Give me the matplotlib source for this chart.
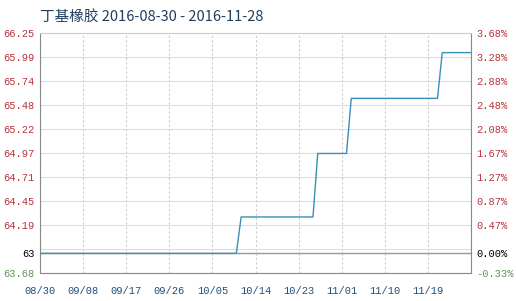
import matplotlib
matplotlib.use("Agg")
import matplotlib.pyplot as plt
import datetime as dt

# price steps
dates = ["2016-08-30", "2016-10-10", "2016-10-11", "2016-10-26", "2016-10-27",
         "2016-11-02", "2016-11-03", "2016-11-21", "2016-11-22", "2016-11-28"]
prices = [63.89, 63.89, 64.28, 64.28, 64.96, 64.96, 65.55, 65.55, 66.04, 66.04]

base = 63.89
left_ticks = [63.68, 63.89, 63.94, 64.19, 64.45, 64.71, 64.97, 65.22, 65.48, 65.74, 65.99, 66.25]
left_labels = ["63.68", "63", "", "64.19", "64.45", "64.71", "64.97", "65.22", "65.48", "65.74", "65.99", "66.25"]
right_labels = ["-0.33%", "0.00%", "", "0.47%", "0.87%", "1.27%", "1.67%", "2.08%", "2.48%", "2.88%", "3.28%", "3.68%"]
x_labels = ["08/30", "09/08", "09/17", "09/26", "10/05", "10/14", "10/23", "11/01", "11/10", "11/19", ""]

red = "#b8333a"
green = "#5a9a4a"
blue_txt = "#1f4e79"
mono = "Liberation Mono"

x = [dt.datetime.strptime(d, "%Y-%m-%d") for d in dates]

fig = plt.figure(figsize=(5.16, 3.01), dpi=100)
ax = fig.add_axes([40 / 516, 28 / 301, 431 / 516, 240 / 301])

ax.plot(x, prices, color="#3a8fb7", lw=1.0, zorder=3)
ax.axhline(base, color="#999999", lw=1.0, zorder=2)

start = x[0]
xt = [start + dt.timedelta(days=9 * i) for i in range(11)]
ax.set_xlim(start, start + dt.timedelta(days=90))
ax.set_ylim(63.68, 66.25)
ax.set_xticks(xt)
ax.set_xticklabels(x_labels, family=mono, fontsize=7.5, color=blue_txt)
ax.set_yticks(left_ticks)
ax.set_yticklabels(left_labels, family=mono, fontsize=7.5)
for lbl, v in zip(ax.get_yticklabels(), left_ticks):
    lbl.set_color(green if v < base else ("black" if v == base else red))

ax.tick_params(length=0, pad=4)
ax.tick_params(axis="x", pad=9)
ax.grid(axis="y", color="#dddddd", lw=0.8)
ax.grid(axis="x", color="#cccccc", lw=0.8, ls=(0, (2, 2)))
for s in ax.spines.values():
    s.set_color("#888888")
    s.set_linewidth(0.8)
ax.spines["top"].set_color("#cccccc")

ax2 = ax.twinx()
ax2.set_ylim(ax.get_ylim())
ax2.set_yticks(left_ticks)
ax2.set_yticklabels(right_labels, family=mono, fontsize=7.5)
for lbl, v in zip(ax2.get_yticklabels(), left_ticks):
    lbl.set_color(green if v < base else ("black" if v == base else red))
ax2.tick_params(length=0, pad=4)
for s in ax2.spines.values():
    s.set_visible(False)

fig.text(40 / 516, 1 - 17 / 301, "丁基橡胶 2016-08-30 - 2016-11-28",
         family=["Noto Sans CJK SC", "DejaVu Sans"], fontsize=10.5,
         color="#1f3f5f", va="center", ha="left")

fig.savefig("out.png", dpi=100)
